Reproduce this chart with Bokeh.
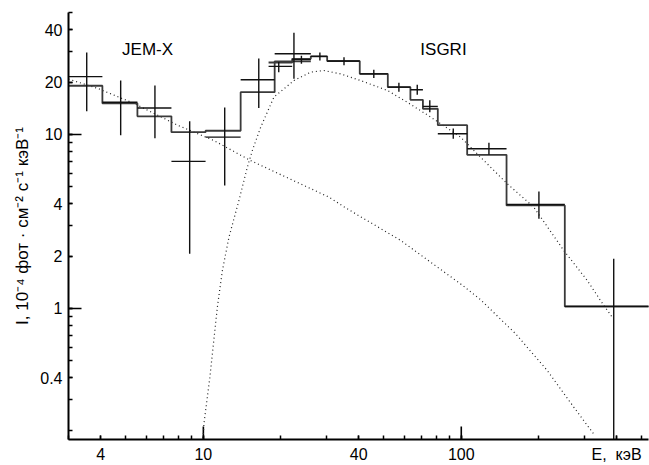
from bokeh.plotting import figure
from bokeh.models import LogAxis, FixedTicker, Label, ColumnDataSource, Range1d, CustomJSTickFormatter
from bokeh.embed import file_html
from bokeh.resources import INLINE

# ---------------- data ----------------
# JEM-X spectrum: energy (keV), bin edges, flux and error limits (1e-4 ph cm-2 s-1 keV-1)
jemx_e = [3.53, 4.78, 6.49, 8.85, 12.1, 16.4, 22.45]
jemx_elo = [3.0, 4.06, 5.55, 7.52, 10.2, 13.95, 18.9]
jemx_ehi = [4.06, 5.55, 7.52, 10.2, 13.95, 18.9, 26.1]
jemx_flux = [21.5, 15.3, 14.2, 7.0, 9.65, 20.6, 29.1]
jemx_flo = [13.6, 9.9, 9.5, 2.06, 5.09, 14.2, 20.9]
jemx_fhi = [29.6, 20.4, 19.1, 11.9, 14.3, 27.3, 38.4]
jemx_model = [19.05, 15.1, 12.7, 10.3, 10.5, 17.5, 26.3]

# ISGRI spectrum
isgri_e = [19.6, 24.0, 28.3, 35.1, 45.8, 57.3, 67.5, 75.5, 93.1, 128, 200, 390]
isgri_elo = [17.9, 22.1, 26.1, 30.2, 40.4, 51.9, 63.5, 71.0, 81.1, 105.4, 149.8, 252]
isgri_ehi = [22.1, 26.1, 30.2, 40.4, 51.9, 63.5, 71.0, 81.1, 105.4, 149.8, 252, 605]
isgri_flux = [24.6, 26.9, 28.1, 26.4, 22.3, 18.7, 18.07, 14.5, 10.1, 8.27, 3.96, 1.027]
isgri_flo = [22.8, 25.5, 26.6, 25.0, 21.1, 17.6, 16.9, 13.4, 9.45, 7.65, 3.28, 0.1]
isgri_fhi = [26.1, 28.3, 29.6, 27.8, 23.5, 19.8, 19.3, 15.7, 10.8, 8.95, 4.70, 1.93]
isgri_model = [25.9, 27.2, 28.1, 26.4, 22.3, 18.7, 15.8, 14.05, 11.3, 7.64, 3.91, 1.027]

# model components (dotted curves)
pl_e = [3.0, 3.89, 5.37, 7.95, 10.96, 15.2, 30.7, 36.1, 58.2, 101, 119, 162.5, 215.5, 273, 327]
pl_i = [20.8, 18.4, 15.1, 11.3, 9.24, 7.09, 4.36, 3.74, 2.46, 1.36, 1.12, 0.715, 0.440, 0.271, 0.189]

comp_e = [9.98, 10.05, 10.6, 11.33, 11.85, 12.57, 13.74, 14.81, 15.49, 16.68, 18.78, 22.45, 26.06,
          29.3, 34.0, 40.7, 51.7, 61.8, 76.0, 99.4, 118.8, 150.7, 191.0, 249.9, 307.7, 357, 384.6]
comp_i = [0.18, 0.217, 0.403, 1.017, 1.65, 2.57, 4.18, 6.49, 8.09, 11.0, 16.4, 20.4, 22.8,
          23.3, 22.3, 20.4, 17.9, 15.3, 12.6, 9.65, 7.4, 5.21, 3.82, 2.15, 1.45, 1.04, 0.891]

# axes
X0, X1 = 3.0, 532.0
Y0, Y1 = 0.1766, 50.2
x_ticks = [4, 10, 40, 100, 400]
x_decades = [10, 100]
x_minor = [3, 4, 5, 6, 7, 8, 9, 10, 20, 30, 40, 50, 60, 70, 80, 90, 100, 200, 300, 400, 500]
y_ticks = [0.4, 1, 2, 4, 10, 20, 40]
y_decades = [1, 10]
y_minor = [0.2, 0.3, 0.4, 0.5, 0.6, 0.7, 0.8, 0.9, 1, 2, 3, 4, 5, 6, 7, 8, 9, 10, 20, 30, 40, 50]

FONT = "Liberation Sans"
FRAME_W, FRAME_H = 580, 427
LONG_TICK = 13


def steps(lo, hi, vals):
    xs, ys = [], []
    for a, b, v in zip(lo, hi, vals):
        xs += [a, b]
        ys += [v, v]
    return xs, ys


p = figure(frame_width=FRAME_W, frame_height=FRAME_H, x_axis_type="log", y_axis_type="log",
           x_range=Range1d(X0, X1), y_range=Range1d(Y0, Y1),
           x_axis_location=None, y_axis_location=None,
           output_backend="svg", toolbar_location=None,
           min_border_left=68, min_border_right=1, min_border_top=12, min_border_bottom=26)
p.outline_line_color = None
for g in p.grid:
    g.visible = False
p.background_fill_color = "white"

fmt_x = CustomJSTickFormatter(code="return tick == 400 ? 'E,\u00a0\u00a0кэВ' : String(tick);")
fmt_y = CustomJSTickFormatter(code="return String(tick);")

xa = LogAxis(ticker=FixedTicker(ticks=x_ticks, minor_ticks=x_minor), formatter=fmt_x,
             major_tick_in=4, major_tick_out=0, minor_tick_in=4, minor_tick_out=0,
             axis_line_width=2, major_tick_line_width=1.5, minor_tick_line_width=1.5,
             major_label_text_font=FONT, major_label_text_font_size="16px",
             major_label_text_color="black", major_label_standoff=6)
ya = LogAxis(ticker=FixedTicker(ticks=y_ticks, minor_ticks=y_minor), formatter=fmt_y,
             major_tick_in=4, major_tick_out=0, minor_tick_in=4, minor_tick_out=0,
             axis_line_width=2, major_tick_line_width=1.5, minor_tick_line_width=1.5,
             major_label_text_font=FONT, major_label_text_font_size="16px",
             major_label_text_color="black", major_label_standoff=6,
             axis_label="I, 10⁻⁴ фот · см⁻² с⁻¹ кэВ⁻¹", axis_label_text_font=FONT,
             axis_label_text_font_size="17px", axis_label_text_font_style="normal",
             axis_label_text_color="black", axis_label_standoff=5)
p.add_layout(xa, "below")
p.add_layout(ya, "left")

# long decade ticks (axis decoration, length derived from the ranges)
yt = Y0 * (Y1 / Y0) ** (LONG_TICK / FRAME_H)
xt = X0 * (X1 / X0) ** (LONG_TICK / FRAME_W)
p.segment(x0=x_decades, x1=x_decades, y0=[Y0] * len(x_decades), y1=[yt] * len(x_decades),
          line_color="black", line_width=1.6)
p.segment(x0=[X0] * len(y_decades), x1=[xt] * len(y_decades), y0=y_decades, y1=y_decades,
          line_color="black", line_width=1.6)

# dotted model components
p.line(pl_e, pl_i, line_color="#222222", line_width=1.2, line_dash="1 3")
p.line(comp_e, comp_i, line_color="#222222", line_width=1.2, line_dash="1 3")

# step models
for lo, hi, m in ((jemx_elo, jemx_ehi, jemx_model), (isgri_elo, isgri_ehi, isgri_model)):
    sx, sy = steps(lo, hi, m)
    p.line(sx, sy, line_color="#3a3a3a", line_width=1.8)

# data crosses
for e, lo, hi, f, flo, fhi in ((jemx_e, jemx_elo, jemx_ehi, jemx_flux, jemx_flo, jemx_fhi),
                               (isgri_e, isgri_elo, isgri_ehi, isgri_flux, isgri_flo, isgri_fhi)):
    src = ColumnDataSource(dict(e=e, lo=lo, hi=hi, f=f, flo=flo, fhi=fhi))
    p.segment(x0="lo", x1="hi", y0="f", y1="f", source=src, line_color="#111111", line_width=1.4)
    p.segment(x0="e", x1="e", y0="flo", y1="fhi", source=src, line_color="#111111", line_width=1.4)

p.add_layout(Label(x=6.08, y=30.8, text="JEM-X", text_align="center", text_baseline="middle",
                   text_font=FONT, text_font_size="17px", text_color="black"))
p.add_layout(Label(x=85.3, y=30.8, text="ISGRI", text_align="center", text_baseline="middle",
                   text_font=FONT, text_font_size="17px", text_color="black"))

open("out.html", "w").write(file_html(p, INLINE))
